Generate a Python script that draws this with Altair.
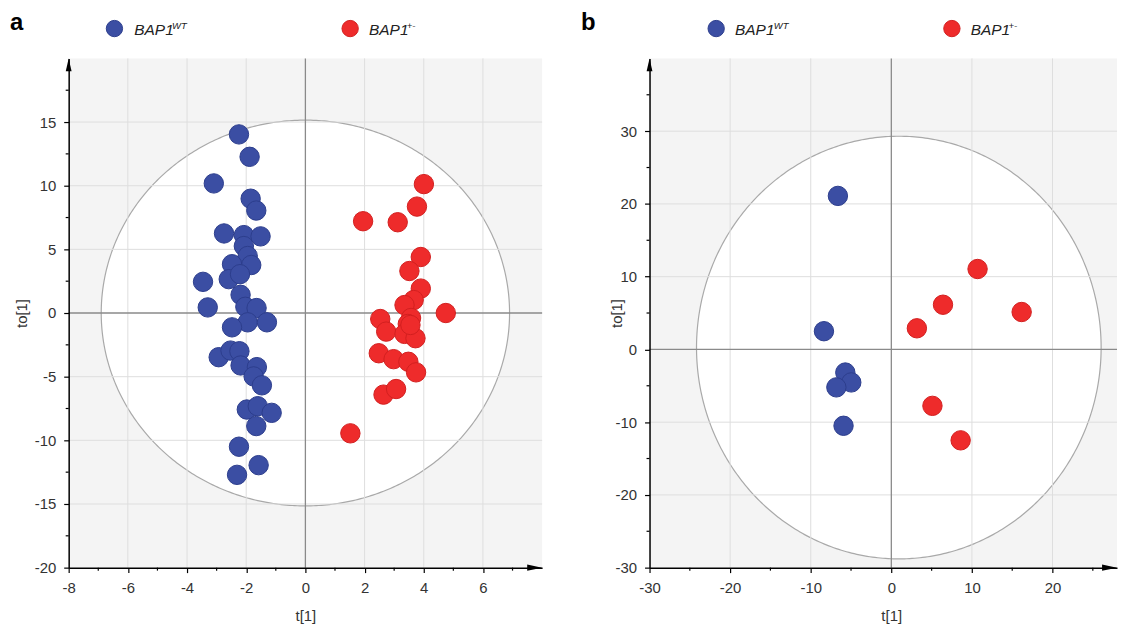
import altair as alt
import pandas as pd
import numpy as np

# ---------------- data ----------------
groups = ["BAP1WT", "BAP1+-"]
fill_colors = ["#3b4ea3", "#ee2b2b"]
edge_colors = ["#2c3d8c", "#d21f1f"]

# panel a
a_wt_x = [-2.245, -1.885, -3.095, -1.85, -1.66, -2.75, -2.08, -1.515, -2.08, -1.95, -1.83, -2.48,
          -3.46, -2.59, -2.21, -2.19, -3.30, -2.03, -1.65, -1.95, -1.30, -2.48, -2.93, -2.53,
          -2.23, -2.19, -1.64, -1.75, -1.47, -1.98, -1.61, -1.14, -1.66, -2.245, -1.58, -2.31]
a_wt_y = [14.03, 12.27, 10.18, 8.98, 8.05, 6.25, 6.12, 6.02, 5.26, 4.48, 3.77, 3.83,
          2.45, 2.66, 3.05, 1.43, 0.44, 0.49, 0.39, -0.73, -0.73, -1.125, -3.47, -2.95,
          -3.0, -4.12, -4.25, -4.98, -5.68, -7.58, -7.32, -7.84, -8.88, -10.5, -11.95, -12.71]
a_het_x = [4.005, 3.77, 1.95, 3.12, 3.90, 3.515, 3.90, 3.66, 3.35, 4.745, 2.53, 3.57,
           3.46, 2.73, 3.35, 3.72, 3.55, 2.48, 2.98, 3.48, 3.74, 2.64, 3.065, 1.52]
a_het_y = [10.125, 8.36, 7.21, 7.13, 4.40, 3.30, 1.92, 1.02, 0.625, 0.0, -0.47, -0.39,
           -0.86, -1.46, -1.64, -1.98, -0.94, -3.16, -3.625, -3.83, -4.66, -6.41, -5.97, -9.45]

# panel b
b_wt_x = [-6.63, -8.36, -5.71, -4.97, -6.82, -5.93]
b_wt_y = [21.1, 2.5, -3.18, -4.54, -5.22, -10.5]
b_het_x = [10.70, 6.41, 3.17, 16.17, 5.10, 8.60]
b_het_y = [11.05, 6.14, 2.90, 5.14, -7.76, -12.5]

# axes
a_xdom = [-8, 8]
a_ydom = [-20, 20]
a_xticks = [-8, -6, -4, -2, 0, 2, 4, 6]
a_yticks = [-20, -15, -10, -5, 0, 5, 10, 15]
a_xminor = [-7, -5, -3, -1, 1, 3, 5, 7]
a_yminor = [-17.5, -12.5, -7.5, -2.5, 2.5, 7.5, 12.5, 17.5]
a_xgrid = [-6, -4, -2, 2, 4, 6]
a_ygrid = [-15, -10, -5, 5, 10, 15]

b_xdom = [-30, 28]
b_ydom = [-30, 40]
b_xticks = [-30, -20, -10, 0, 10, 20]
b_yticks = [-30, -20, -10, 0, 10, 20, 30]
b_xminor = [-25, -15, -5, 5, 15, 25]
b_yminor = [-25, -15, -5, 5, 15, 25, 35]
b_xgrid = [-20, -10, 10, 20]
b_ygrid = [-20, -10, 10, 20, 30]

# Hotelling ellipse: centre x, centre y, semi-axis x, semi-axis y
a_ellipse = (0.0, 0.0, 6.9, 15.15)
b_ellipse = (0.93, 0.25, 25.1, 29.05)

FONT = "Liberation Sans"
LABEL_COLOR = "#333333"


def one(**kw):
    return pd.DataFrame({k: [v] for k, v in kw.items()})


def panel(letter, wt_x, wt_y, het_x, het_y, xdom, ydom, xticks, yticks, xminor, yminor,
          xgrid, ygrid, ell, W, H, leg, ytitle_x, xtitle_x):
    xs = alt.Scale(domain=xdom, nice=False, zero=False)
    ys = alt.Scale(domain=ydom, nice=False, zero=False)
    xaxis_kw = dict(values=xticks, grid=False, domainColor="black", domainWidth=1.5,
                    tickColor="black", tickWidth=1.2, tickSize=5, labelFont=FONT,
                    labelFontSize=15, labelColor=LABEL_COLOR, labelPadding=8,
                    labelExpr="datum.value + ''",
                    labelFlush=False, labelOverlap=False, title="t[1]", titleFont=FONT,
                    titleFontSize=15, titleFontWeight="normal", titleColor=LABEL_COLOR,
                    titleY=48, titleBaseline="middle", zindex=1)
    if xtitle_x is not None:
        xaxis_kw["titleX"] = xtitle_x
    xaxis = alt.Axis(**xaxis_kw)
    yaxis = alt.Axis(values=yticks, grid=False, domainColor="black", domainWidth=1.5,
                     tickColor="black", tickWidth=1.2, tickSize=5, labelFont=FONT,
                     labelFontSize=15, labelColor=LABEL_COLOR, labelPadding=8,
                     labelExpr="datum.value + ''",
                     labelFlush=False, labelOverlap=False, title="to[1]", titleFont=FONT,
                     titleFontSize=15, titleFontWeight="normal", titleColor=LABEL_COLOR,
                     titleX=ytitle_x, titleBaseline="middle", zindex=1)
    X = alt.X("x:Q", scale=xs, axis=xaxis)
    Y = alt.Y("y:Q", scale=ys, axis=yaxis)

    cx, cy, ea, eb = ell
    t = np.linspace(0, np.pi, 241)
    edf = pd.DataFrame({"x": cx + ea * np.cos(t), "y": cy + eb * np.sin(t),
                        "y2": cy - eb * np.sin(t)})
    ell_area = alt.Chart(edf).mark_area(fill="white", stroke="#a9a9a9", strokeWidth=1.2,
                                        orient="vertical").encode(
        x=X, y=Y, y2=alt.Y2("y2:Q"))

    xg = alt.Chart(pd.DataFrame({"x": xgrid})).mark_rule(color="#dedede", strokeWidth=1).encode(x=X)
    yg = alt.Chart(pd.DataFrame({"y": ygrid})).mark_rule(color="#dedede", strokeWidth=1).encode(y=Y)
    x0 = alt.Chart(pd.DataFrame({"x": [0]})).mark_rule(color="#8a8a8a", strokeWidth=1.3).encode(x=X)
    y0 = alt.Chart(pd.DataFrame({"y": [0]})).mark_rule(color="#8a8a8a", strokeWidth=1.3).encode(y=Y)

    xm = alt.Chart(pd.DataFrame({"x": xminor})).mark_rule(color="black", strokeWidth=1.2).encode(
        x=X, y=alt.value(H), y2=alt.value(H + 3))
    ym = alt.Chart(pd.DataFrame({"y": yminor})).mark_rule(color="black", strokeWidth=1.2).encode(
        y=Y, x=alt.value(0), x2=alt.value(-3))

    pts = pd.DataFrame({
        "x": wt_x + het_x,
        "y": wt_y + het_y,
        "g": [groups[0]] * len(wt_x) + [groups[1]] * len(het_x),
    })
    points = alt.Chart(pts).mark_point(filled=True, size=380, opacity=1, strokeWidth=1,
                                       shape="circle").encode(
        x=X, y=Y,
        fill=alt.Fill("g:N", scale=alt.Scale(domain=groups, range=fill_colors), legend=None),
        stroke=alt.Stroke("g:N", scale=alt.Scale(domain=groups, range=edge_colors), legend=None),
    )

    up_arrow = alt.Chart(one(k=1)).mark_point(
        shape="M0,-1L0.45,1L-0.45,1Z", filled=True, color="black", size=169, opacity=1,
        strokeWidth=0).encode(x=alt.value(0), y=alt.value(6.5))
    right_arrow = alt.Chart(one(k=1)).mark_point(
        shape="M1,0L-1,-0.42L-1,0.42Z", filled=True, color="black", size=225, opacity=1,
        strokeWidth=0).encode(x=alt.value(W - 7.5), y=alt.value(H))

    layers = [ell_area, xg, yg, x0, y0, xm, ym, points, up_arrow, right_arrow]

    # legend
    (cwx, twx, swx), (chx, thx, shx) = leg
    for gi, (cxp, txp, sxp, sup) in enumerate([(cwx, twx, swx, "WT"), (chx, thx, shx, "+-")]):
        layers.append(alt.Chart(one(g=groups[gi])).mark_point(
            filled=True, size=270, opacity=1, shape="circle", color=fill_colors[gi],
            stroke=edge_colors[gi], strokeWidth=1).encode(x=alt.value(cxp), y=alt.value(-30)))
        layers.append(alt.Chart(one(t="BAP1")).mark_text(
            align="left", baseline="alphabetic", font=FONT, fontSize=15.5, fontStyle="italic",
            color="#222222").encode(x=alt.value(txp), y=alt.value(-23.5), text="t:N"))
        layers.append(alt.Chart(one(t=sup)).mark_text(
            align="left", baseline="alphabetic", font=FONT, fontSize=9.5, fontStyle="italic",
            color="#222222").encode(x=alt.value(sxp), y=alt.value(-30), text="t:N"))

    layers.append(alt.Chart(one(t=letter)).mark_text(
        align="left", baseline="alphabetic", font=FONT, fontSize=24, fontWeight="bold",
        color="black").encode(x=alt.value(-59 if letter == "a" else -69), y=alt.value(-29),
                              text="t:N"))

    return alt.layer(*layers).properties(width=W, height=H)


pa = panel("a", a_wt_x, a_wt_y, a_het_x, a_het_y, a_xdom, a_ydom, a_xticks, a_yticks,
           a_xminor, a_yminor, a_xgrid, a_ygrid, a_ellipse, 476, 512,
           ((46, 66, 104), (283, 302, 340)), -47, None)
pb = panel("b", b_wt_x, b_wt_y, b_het_x, b_het_y, b_xdom, b_ydom, b_xticks, b_yticks,
           b_xminor, b_yminor, b_xgrid, b_ygrid, b_ellipse, 470, 512,
           ((67, 86, 125), (304, 323, 361)), -33, 243)

chart = alt.hconcat(pa, pb, spacing=38).properties(
    padding={"left": 2, "top": 1, "right": 0, "bottom": 0}
).configure_view(fill="#f4f4f4", strokeWidth=0)

chart.save("out.html", embed_options={"renderer": "svg", "actions": False})
